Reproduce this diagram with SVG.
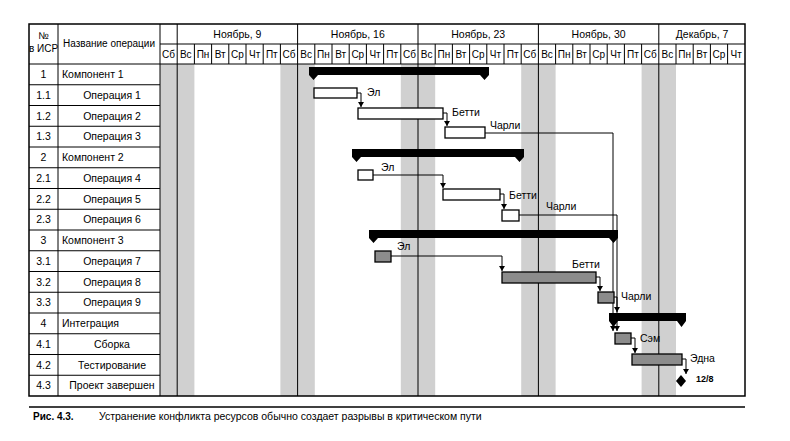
<svg xmlns="http://www.w3.org/2000/svg" width="790" height="441" viewBox="0 0 790 441">
<style>
text{font-family:"Liberation Sans",Arial,sans-serif;fill:#000}
.t{font-size:10.5px}
.h{font-size:10px;text-anchor:middle}
.d{font-size:10px;text-anchor:middle}
.c{text-anchor:middle}
.g{fill:#d0d0d0}
.ln{stroke:#000;stroke-width:1;fill:none}
.ln2{stroke:#000;stroke-width:1.5;fill:none}
.wb{fill:#fff;stroke:#000;stroke-width:1.3}
.gb{fill:#8c8c8c;stroke:#000;stroke-width:1.3}
.sb{fill:#000}
.cn{stroke:#000;stroke-width:1;fill:none;marker-end:url(#a)}
</style>
<defs>
<marker id="a" markerWidth="6" markerHeight="6" refX="3" refY="5" orient="0" markerUnits="userSpaceOnUse" viewBox="0 0 6 6"><path d="M0,0 L6,0 L3,5 Z" fill="#000"/></marker>
</defs>
<rect width="790" height="441" fill="#fff"/>
<g id="grid">
<rect class="g" x="160" y="64" width="34.4" height="332"/>
<rect class="g" x="280.4" y="64" width="34.4" height="332"/>
<rect class="g" x="400.8" y="64" width="34.4" height="332"/>
<rect class="g" x="521.2" y="64" width="34.4" height="332"/>
<rect class="g" x="641.6" y="64" width="34.4" height="332"/>
<g class="ln">
<path d="M58,24V396M160,24V396M177.2,24V396M297.6,24V396M418,24V396M538.4,24V396M658.8,24V396"/>
<path d="M160,44H745M29,64H745"/>
<path d="M194.4,44V64M211.6,44V64M228.8,44V64M246,44V64M263.2,44V64M280.4,44V64M314.8,44V64M332,44V64M349.2,44V64M366.4,44V64M383.6,44V64M400.8,44V64M435.2,44V64M452.4,44V64M469.6,44V64M486.8,44V64M504,44V64M521.2,44V64M555.6,44V64M572.8,44V64M590,44V64M607.2,44V64M624.4,44V64M641.6,44V64M676,44V64M693.2,44V64M710.4,44V64M727.6,44V64"/>
<path d="M29,84.75H160M29,105.5H160M29,126.25H160M29,147H160M29,167.75H160M29,188.5H160M29,209.25H160M29,230H160M29,250.75H160M29,271.5H160M29,292.25H160M29,313H160M29,333.75H160M29,354.5H160M29,375.25H160"/>
</g>
<rect x="29" y="24" width="716" height="372" class="ln2"/>
</g>
<g id="header">
<text class="h" x="43.5" y="39">№</text>
<text class="h" x="43.5" y="52">в ИСР</text>
<text class="h" x="109" y="47">Название операции</text>
<text class="t c" x="237.4" y="38">Ноябрь, 9</text>
<text class="t c" x="357.8" y="38">Ноябрь, 16</text>
<text class="t c" x="478.2" y="38">Ноябрь, 23</text>
<text class="t c" x="598.6" y="38">Ноябрь, 30</text>
<text class="t c" x="702" y="38">Декабрь, 7</text>
<g>
<text x="168.6" y="58" class="d">Сб</text><text x="185.8" y="58" class="d">Вс</text><text x="203" y="58" class="d">Пн</text><text x="220.2" y="58" class="d">Вт</text><text x="237.4" y="58" class="d">Ср</text><text x="254.6" y="58" class="d">Чт</text><text x="271.8" y="58" class="d">Пт</text><text x="289" y="58" class="d">Сб</text>
<text x="306.2" y="58" class="d">Вс</text><text x="323.4" y="58" class="d">Пн</text><text x="340.6" y="58" class="d">Вт</text><text x="357.8" y="58" class="d">Ср</text><text x="375" y="58" class="d">Чт</text><text x="392.2" y="58" class="d">Пт</text><text x="409.4" y="58" class="d">Сб</text>
<text x="426.6" y="58" class="d">Вс</text><text x="443.8" y="58" class="d">Пн</text><text x="461" y="58" class="d">Вт</text><text x="478.2" y="58" class="d">Ср</text><text x="495.4" y="58" class="d">Чт</text><text x="512.6" y="58" class="d">Пт</text><text x="529.8" y="58" class="d">Сб</text>
<text x="547" y="58" class="d">Вс</text><text x="564.2" y="58" class="d">Пн</text><text x="581.4" y="58" class="d">Вт</text><text x="598.6" y="58" class="d">Ср</text><text x="615.8" y="58" class="d">Чт</text><text x="633" y="58" class="d">Пт</text><text x="650.2" y="58" class="d">Сб</text>
<text x="667.4" y="58" class="d">Вс</text><text x="684.6" y="58" class="d">Пн</text><text x="701.8" y="58" class="d">Вт</text><text x="719" y="58" class="d">Ср</text><text x="736.2" y="58" class="d">Чт</text>
</g>
</g>
<g id="rows">
<text class="t c" x="43.5" y="78">1</text><text class="t" x="62" y="78">Компонент 1</text>
<text class="t c" x="43.5" y="99">1.1</text><text class="t c" x="112" y="99">Операция 1</text>
<text class="t c" x="43.5" y="120">1.2</text><text class="t c" x="112" y="120">Операция 2</text>
<text class="t c" x="43.5" y="140">1.3</text><text class="t c" x="112" y="140">Операция 3</text>
<text class="t c" x="43.5" y="161">2</text><text class="t" x="62" y="161">Компонент 2</text>
<text class="t c" x="43.5" y="182">2.1</text><text class="t c" x="112" y="182">Операция 4</text>
<text class="t c" x="43.5" y="203">2.2</text><text class="t c" x="112" y="203">Операция 5</text>
<text class="t c" x="43.5" y="223">2.3</text><text class="t c" x="112" y="223">Операция 6</text>
<text class="t c" x="43.5" y="244">3</text><text class="t" x="62" y="244">Компонент 3</text>
<text class="t c" x="43.5" y="265">3.1</text><text class="t c" x="112" y="265">Операция 7</text>
<text class="t c" x="43.5" y="286">3.2</text><text class="t c" x="112" y="286">Операция 8</text>
<text class="t c" x="43.5" y="306">3.3</text><text class="t c" x="112" y="306">Операция 9</text>
<text class="t c" x="43.5" y="327">4</text><text class="t" x="62" y="327">Интеграция</text>
<text class="t c" x="43.5" y="348">4.1</text><text class="t c" x="112" y="348">Сборка</text>
<text class="t c" x="43.5" y="369">4.2</text><text class="t c" x="112" y="369">Тестирование</text>
<text class="t c" x="43.5" y="389">4.3</text><text class="t c" x="112" y="389">Проект завершен</text>
</g>
<g id="connectors">
<path class="cn" d="M357,93H361V107"/>
<path class="cn" d="M443,113H447V126"/>
<path class="cn" d="M485,133H613V331"/>
<path class="cn" d="M373,175H443V188"/>
<path class="cn" d="M500,194H504V209"/>
<path class="cn" d="M519,215H617V331"/>
<path class="cn" d="M391,256H502V271"/>
<path class="cn" d="M596,277H600V291"/>
<path class="cn" d="M614,297H617V312"/>
<path class="cn" d="M631,338H635V353"/>
<path class="cn" d="M682,359H686V374"/>
</g>
<g id="c1"><rect class="sb" x="309" y="67" width="180" height="8"/><path class="sb" d="M309,75H318L313.5,80ZM480,75H489L484.5,80Z"/></g>
<g id="o1"><rect class="wb" x="314" y="88" width="43" height="10"/><text class="t" x="367" y="96">Эл</text></g>
<g id="o2"><rect class="wb" x="358" y="108" width="85" height="11"/><text class="t" x="452" y="116">Бетти</text></g>
<g id="o3"><rect class="wb" x="445" y="127" width="40" height="11"/><text class="t" x="490" y="129">Чарли</text></g>
<g id="c2"><rect class="sb" x="352" y="149" width="172" height="8"/><path class="sb" d="M352,157H361L356.5,162ZM515,157H524L519.5,162Z"/></g>
<g id="o4"><rect class="wb" x="358" y="170" width="15" height="10"/><text class="t" x="381" y="171">Эл</text></g>
<g id="o5"><rect class="wb" x="443" y="189" width="57" height="11"/><text class="t" x="509" y="199">Бетти</text></g>
<g id="o6"><rect class="wb" x="502" y="210" width="17" height="11"/><text class="t" x="546" y="210">Чарли</text></g>
<g id="c3"><rect class="sb" x="369" y="230" width="249" height="8"/><path class="sb" d="M369,238H378L373.5,243ZM609,238H618L613.5,243Z"/></g>
<g id="o7"><rect class="gb" x="375" y="251" width="16" height="11"/><text class="t" x="397" y="250">Эл</text></g>
<g id="o8"><rect class="gb" x="502" y="272" width="94" height="11"/><text class="t" x="572" y="268">Бетти</text></g>
<g id="o9"><rect class="gb" x="598" y="292" width="16" height="11"/><text class="t" x="621" y="300">Чарли</text></g>
<g id="c4"><rect class="sb" x="609" y="313" width="77" height="8"/><path class="sb" d="M609,321H618L613.5,327ZM677,321H686L681.5,327Z"/></g>
<g id="o10"><rect class="gb" x="615" y="333" width="16" height="11"/><text class="t" x="640" y="342">Сэм</text></g>
<g id="o11"><rect class="gb" x="632" y="354" width="50" height="11"/><text class="t" x="690" y="362">Эдна</text></g>
<g id="m"><path class="sb" d="M681,375L686,381L681,387L676,381Z"/><text x="696" y="382" style="font-size:9px;font-weight:bold">12/8</text></g>
<g id="caption">
<path d="M29,407H745" stroke="#000" stroke-width="1.5"/>
<text x="33" y="420" style="font-size:10px;font-weight:bold">Рис. 4.3.</text>
<text class="t" x="99" y="420">Устранение конфликта ресурсов обычно создает разрывы в критическом пути</text>
</g>
</svg>
